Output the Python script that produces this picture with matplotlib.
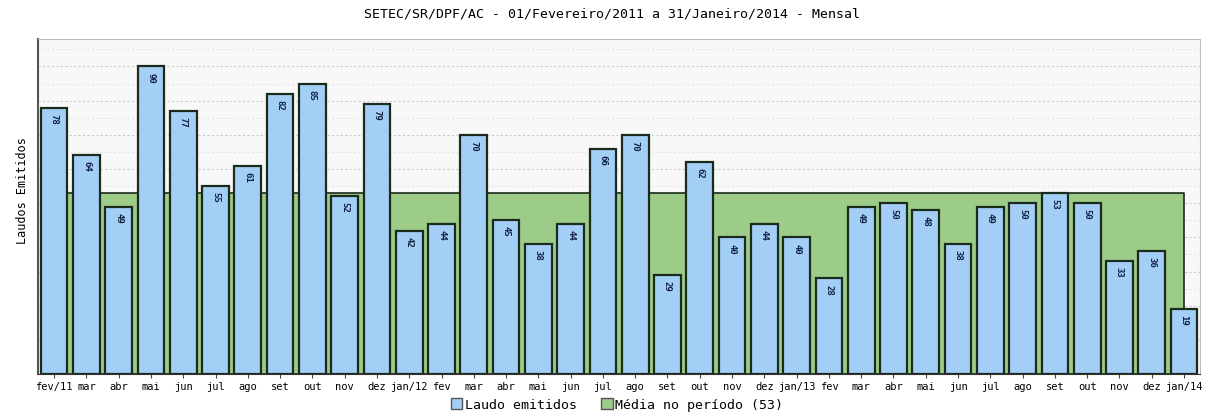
import numpy as np
import matplotlib
matplotlib.use("Agg")
import matplotlib.pyplot as plt
from matplotlib.patches import Patch

# dados
meses = ["fev/11", "mar", "abr", "mai", "jun", "jul", "ago", "set", "out", "nov", "dez",
         "jan/12", "fev", "mar", "abr", "mai", "jun", "jul", "ago", "set", "out", "nov", "dez",
         "jan/13", "fev", "mar", "abr", "mai", "jun", "jul", "ago", "set", "out", "nov", "dez",
         "jan/14"]
laudos = [78, 64, 49, 90, 77, 55, 61, 82, 85, 52, 79,
          42, 44, 70, 45, 38, 44, 66, 70, 29, 62, 40, 44,
          40, 28, 49, 50, 48, 38, 49, 50, 53, 50, 33, 36,
          19]
media = 53

titulo = "SETEC/SR/DPF/AC - 01/Fevereiro/2011 a 31/Janeiro/2014 - Mensal"

azul = "#a3cff7"
verde = "#9ccc88"
borda = "#1b2b1b"

fig = plt.figure(figsize=(12.05, 4.14), dpi=100, facecolor="white")
ax = fig.add_axes([0.0315, 0.094, 0.9645, 0.809])
ax.set_facecolor("#f8f8f8")

x = np.arange(len(meses))

# area da media (por tras das barras)
ax.fill_between(x, 0, [media] * len(x), color=verde, edgecolor=borda, linewidth=1.2, zorder=1)

bars = ax.bar(x, laudos, width=0.83, color=azul, edgecolor=borda, linewidth=1.6, zorder=3)

for b, v in zip(bars, laudos):
    ax.text(b.get_x() + b.get_width() / 2, v - 1.5, str(v), rotation=270,
            ha="center", va="top", fontsize=6.5, color="#102040",
            family="DejaVu Sans Mono", fontweight="bold", zorder=4)

ax.set_xlim(-0.5, len(meses) - 0.5)
ax.set_ylim(0, 98)

# grade pontilhada
for yv in np.arange(5, 98, 5):
    cor = "#cccccc" if yv % 10 == 0 else "#e4e4e4"
    ax.axhline(yv, color=cor, linestyle=(0, (2, 2)), linewidth=0.8, zorder=0)

ax.set_yticks([])
ax.set_xticks(x)
ax.set_xticklabels(meses, fontsize=7.5, family="DejaVu Sans Mono")
ax.tick_params(axis="x", length=3, pad=2, color="#444444")

for s in ["top", "right"]:
    ax.spines[s].set_color("#bbbbbb")
ax.spines["left"].set_color("#555555")
ax.spines["bottom"].set_color("#333333")
ax.spines["left"].set_linewidth(1.5)

ax.set_ylabel("Laudos Emitidos", fontsize=8.5, family="DejaVu Sans Mono")
ax.yaxis.set_label_coords(-0.008, 0.55)
fig.text(0.508, 0.965, titulo, ha="center", va="center", fontsize=9.5, family="DejaVu Sans Mono")

handles = [Patch(facecolor=azul, edgecolor="#555555", label="Laudo emitidos"),
           Patch(facecolor=verde, edgecolor="#555555", label="Média no período (%d)" % media)]
fig.legend(handles=handles, loc="center", bbox_to_anchor=(0.512, 0.02), ncol=2, frameon=False,
           prop={"family": "DejaVu Sans Mono", "size": 9.5}, handlelength=0.9, handleheight=0.9,
           handletextpad=0.2, columnspacing=1.8)

fig.savefig("out.png", dpi=100, facecolor="white")
